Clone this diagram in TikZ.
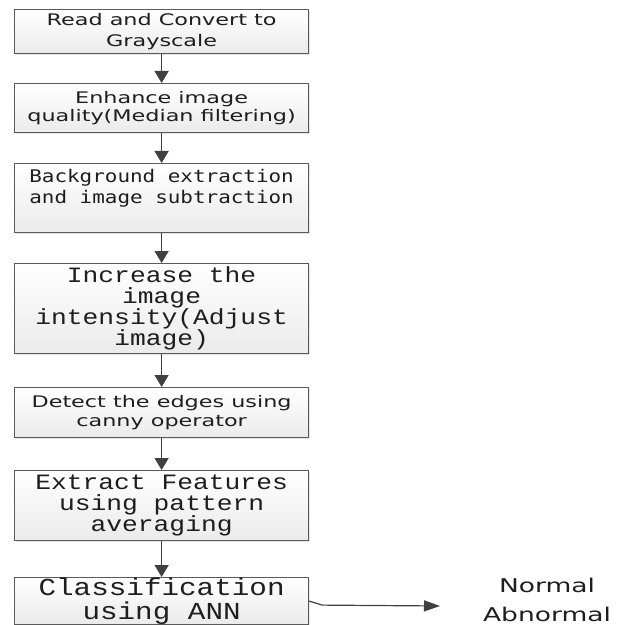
\documentclass[tikz,border=0pt]{standalone}
\usepackage{fontspec}
\setmainfont{DejaVu Sans}
\newfontfamily\boxsans[FakeStretch=1.4]{DejaVu Sans}
\newfontfamily\boxmono[FakeStretch=1.2]{DejaVu Sans Mono}
\newfontfamily\boxcour[FakeStretch=1.2]{Liberation Mono}
\usetikzlibrary{arrows.meta,shadows}
\definecolor{edgegray}{HTML}{5A5A5A}
\definecolor{arrowgray}{HTML}{404040}
\definecolor{txtgray}{HTML}{1E1E1E}
\begin{document}
\begin{tikzpicture}[x=1bp,y=-1bp,
  stepbox/.style={draw=edgegray, line width=1.2bp, top color=white, bottom color=black!8,
    minimum width=294bp, inner sep=0pt, anchor=north west, align=center, text=txtgray,
    drop shadow={shadow xshift=1.5bp, shadow yshift=-1.5bp, opacity=0.25, fill=black!40}},
  sansA/.style={font=\boxsans\fontsize{16}{21}\selectfont},
  sansB/.style={font=\boxsans\fontsize{16}{18.5}\selectfont},
  monoA/.style={font=\boxmono\fontsize{17.5}{21}\selectfont},
  courA/.style={font=\boxcour\fontsize{22}{21}\selectfont},
  courB/.style={font=\boxcour\fontsize{24.5}{24}\selectfont},
  flow/.style={draw=arrowgray, line width=1.5bp, -{Triangle[width=14bp,length=12bp]}},
  outflow/.style={draw=arrowgray, line width=1.2bp, -{Triangle[width=11bp,length=16bp]}},
  result/.style={font=\boxsans\fontsize{19}{22}\selectfont, text=txtgray, inner sep=0pt}
]
\useasboundingbox (0,0) rectangle (624,625);
\clip (0,0) rectangle (624,625);
\fill[white] (0,0) rectangle (624,625);

\node[stepbox, sansA, minimum height=44bp] (s1) at (14,9) {Read and Convert to\\Grayscale};
\node[stepbox, sansB, minimum height=49bp] (s2) at (14,83) {Enhance image\\quality(Median filtering)};
\node[stepbox, monoA, minimum height=69bp] (s3) at (14,163)
  {\parbox[c][57bp][t]{290bp}{\centering Background extraction\\and image subtraction}};
\node[stepbox, courA, minimum height=90bp] (s4) at (14,263) {Increase the\\image\\intensity(Adjust\\image)};
\node[stepbox, sansB, minimum height=50bp] (s5) at (14,387) {Detect the edges using\\canny operator};
\node[stepbox, courA, minimum height=70bp] (s6) at (14,470) {Extract Features\\using pattern\\averaging};
\node[stepbox, courB, minimum height=47bp] (s7) at (14,577) {Classification\\using ANN};

\draw[flow] (s1.south) -- (s2.north);
\draw[flow] (s2.south) -- (s3.north);
\draw[flow] (s3.south) -- (s4.north);
\draw[flow] (s4.south) -- (s5.north);
\draw[flow] (s5.south) -- (s6.north);
\draw[flow] (s6.south) -- (s7.north);

\coordinate (tip) at (440,606);
\draw[outflow] (s7.east) -- ++(13,4) -- (tip);

\node[result] (nrm) at (547,585) {Normal};
\node[result] (abn) at (547,614) {Abnormal};
\end{tikzpicture}
\end{document}
